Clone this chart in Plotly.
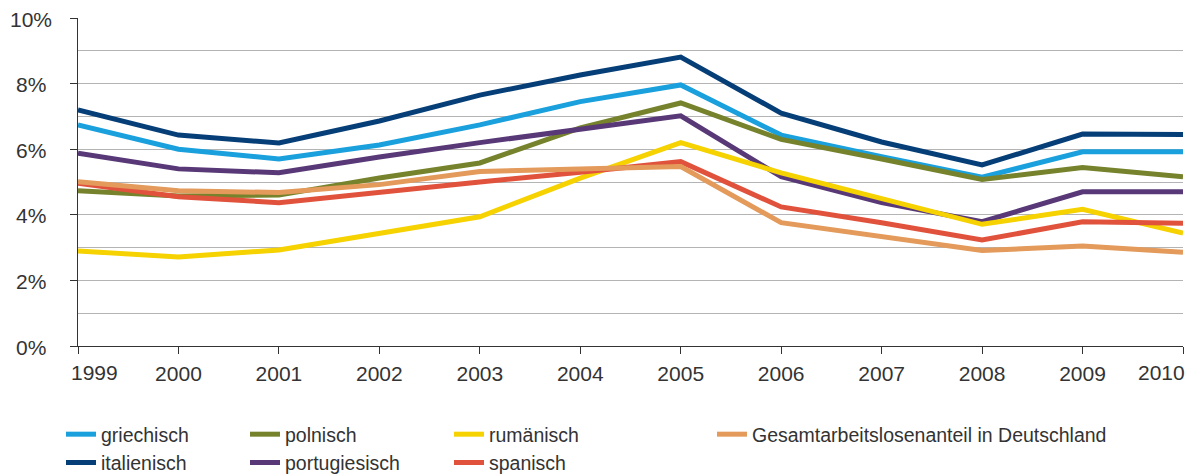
import plotly.graph_objects as go

years = list(range(1999, 2011))
year_labels = [str(y) for y in years]
yticks = [0, 2, 4, 6, 8, 10]
ytick_labels = ["0%", "2%", "4%", "6%", "8%", "10%"]

griechisch = [6.74, 6.00, 5.70, 6.13, 6.74, 7.45, 7.96, 6.43, 5.77, 5.15, 5.92, 5.92]
italienisch = [7.20, 6.43, 6.19, 6.86, 7.65, 8.26, 8.81, 7.10, 6.22, 5.52, 6.46, 6.45]
polnisch = [4.73, 4.57, 4.60, 5.12, 5.58, 6.65, 7.41, 6.30, 5.70, 5.08, 5.44, 5.16]
portugiesisch = [5.88, 5.40, 5.28, 5.76, 6.20, 6.60, 7.02, 5.16, 4.37, 3.79, 4.70, 4.70]
rumaenisch = [2.90, 2.71, 2.93, 3.45, 3.94, 5.12, 6.20, 5.28, 4.50, 3.71, 4.17, 3.44]
spanisch = [4.96, 4.55, 4.37, 4.70, 5.00, 5.30, 5.62, 4.24, 3.76, 3.23, 3.79, 3.74]
gesamt = [5.01, 4.73, 4.68, 4.92, 5.32, 5.38, 5.47, 3.76, 3.33, 2.91, 3.05, 2.86]

series = [
    ("griechisch", griechisch, "#1aa0dc", "legend"),
    ("italienisch", italienisch, "#063f78", "legend"),
    ("polnisch", polnisch, "#76832c", "legend2"),
    ("portugiesisch", portugiesisch, "#583877", "legend2"),
    ("rumänisch", rumaenisch, "#f5d200", "legend3"),
    ("spanisch", spanisch, "#e1523c", "legend3"),
    ("Gesamtarbeitslosenanteil in Deutschland", gesamt, "#e39a5a", "legend4"),
]

fig = go.Figure()
for name, vals, color, leg in series:
    fig.add_trace(go.Scatter(
        x=years, y=vals, name=name, mode="lines",
        line=dict(color=color, width=5), legend=leg,
    ))

font = dict(family="Liberation Sans, Arial, sans-serif", size=21, color="#333333")
legfont = dict(family="Liberation Sans, Arial, sans-serif", size=19.5, color="#333333")

def leg(xpx):
    return dict(
        xref="container", yref="container", x=xpx / 1198, y=1 - 407 / 474,
        xanchor="left", yanchor="top", orientation="v", font=legfont,
        bgcolor="rgba(0,0,0,0)", traceorder="normal", tracegroupgap=0,
    )

fig.update_layout(
    width=1198, height=474,
    margin=dict(l=70, r=23, t=10, b=136, autoexpand=False),
    paper_bgcolor="white", plot_bgcolor="white",
    font=font,
    showlegend=True,
    legend=leg(53), legend2=leg(237), legend3=leg(441), legend4=leg(704),
)

# end labels sit inside the axis span, as in the original
inner = [lab if 0 < i < len(years) - 1 else "" for i, lab in enumerate(year_labels)]
fig.add_annotation(x=years[0], y=0, xref="x", yref="paper", text=year_labels[0],
                   showarrow=False, xanchor="left", yanchor="middle", xshift=-9, yshift=-26, font=font)
fig.add_annotation(x=years[-1], y=0, xref="x", yref="paper", text=year_labels[-1],
                   showarrow=False, xanchor="right", yanchor="middle", xshift=4, yshift=-26, font=font)

# y labels are centred in the original
for v, lab in zip(yticks, ytick_labels):
    fig.add_annotation(x=0, y=v, xref="paper", yref="y", text=lab, showarrow=False,
                       xanchor="center", yanchor="middle", xshift=-47, yshift=-1, font=font)

fig.update_xaxes(
    range=[1999, 2010], tickvals=years, ticktext=inner, ticks="outside", ticklen=7,
    tickcolor="#333333", showline=True, linecolor="#333333", linewidth=1,
    showgrid=False, zeroline=False, tickfont=font, ticklabelstandoff=2,
)
fig.update_yaxes(
    range=[0, 10], tickvals=yticks, showticklabels=False,
    ticks="outside", ticklen=7, tickcolor="#333333",
    showline=True, linecolor="#333333", linewidth=1,
    showgrid=True, gridcolor="#b4b4b4", gridwidth=1, zeroline=False,
    minor=dict(dtick=1, tick0=0, showgrid=True, gridcolor="#b4b4b4", gridwidth=1),
)

fig.write_html("out.html")
